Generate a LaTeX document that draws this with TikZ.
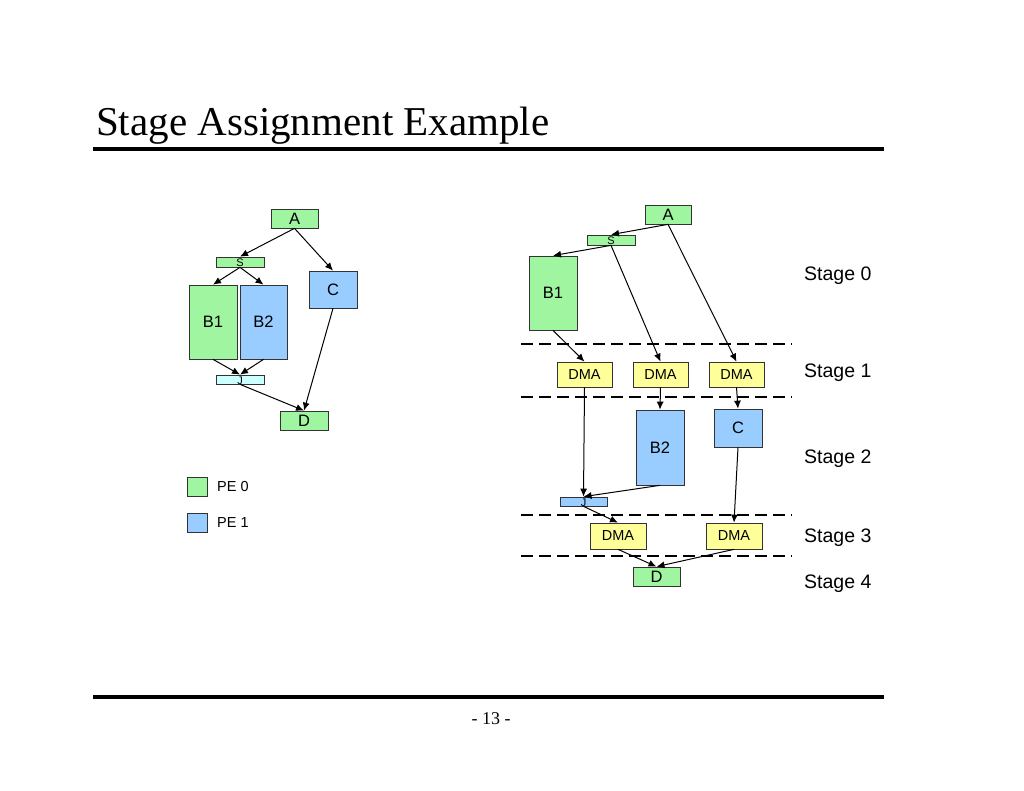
\documentclass[tikz,border=0pt]{standalone}
\usepackage{fontspec}
\setmainfont{Liberation Serif}
\newfontfamily\arialf{Liberation Sans}
\usetikzlibrary{arrows.meta}
\definecolor{pegreen}{HTML}{A0F5A0}
\definecolor{peblue}{HTML}{99CCFF}
\definecolor{dmayellow}{HTML}{FFFF99}
\definecolor{jcyan}{HTML}{CCFFFF}
\begin{document}
\begin{tikzpicture}[x=1pt,y=-1pt,
  box/.style={draw=black!80,line width=0.7pt,inner sep=0pt,font=\arialf\fontsize{16.5}{16.5}\selectfont},
  gbox/.style={box,fill=pegreen},
  bbox/.style={box,fill=peblue},
  ybox/.style={box,fill=dmayellow,font=\arialf\fontsize{14.5}{14.5}\selectfont},
  thin box/.style={box,font=\arialf\fontsize{11}{11}\selectfont,text depth=0pt},
  arr/.style={-{Latex[length=8pt,width=7pt]},line width=1pt},
  stagelbl/.style={anchor=west,inner sep=0pt,font=\arialf\fontsize{19.5}{19.5}\selectfont},
  stageline/.style={line width=2pt,dash pattern=on 12pt off 6pt},
  rulebar/.style={line width=4pt}
]
\useasboundingbox (0,0) rectangle (1024,791);
% title
\node[anchor=base west,inner sep=0pt,font=\fontsize{41}{41}\selectfont] (title) at (96,136) {Stage Assignment Example};
\coordinate (r1a) at (93,149); \coordinate (r1b) at (884,149);
\draw[rulebar] (r1a) -- (r1b);
\coordinate (r2a) at (93,697); \coordinate (r2b) at (884,697);
\draw[rulebar] (r2a) -- (r2b);
\node[font=\fontsize{18}{18}\selectfont,inner sep=0pt] (pg) at (491,719) {- 13 -};

% left graph
\node[gbox,minimum width=47pt,minimum height=19pt] (lA) at (294.5,218.5) {A};
\node[thin box,fill=pegreen,minimum width=48pt,minimum height=10pt] (lS) at (240,262) {\raisebox{-2pt}{S}};
\node[bbox,minimum width=48pt,minimum height=37pt] (lC) at (333,289.5) {C};
\node[gbox,minimum width=48pt,minimum height=74pt] (lB1) at (213,322) {B1};
\node[bbox,minimum width=47pt,minimum height=74pt] (lB2) at (263.5,322) {B2};
\node[thin box,fill=jcyan,minimum width=48pt,minimum height=9pt] (lJ) at (240,379.5) {\raisebox{-2pt}{J}};
\node[gbox,minimum width=48pt,minimum height=19pt] (lD) at (304,420.5) {D};
\draw[arr] (lA.south) -- (lS.north);
\draw[arr] (lA.south) -- (lC.north);
\draw[arr] (lS.south) -- (lB1.north);
\draw[arr] (lS.south) -- (lB2.north);
\draw[arr] (lB1.south) -- (lJ.north);
\draw[arr] (lB2.south) -- (lJ.north);
\draw[arr] (lJ.south) -- (lD.north);
\draw[arr] (lC.south) -- (lD.north);

% legend
\node[box,fill=pegreen,minimum width=20pt,minimum height=19pt] (lg0) at (197,486.5) {};
\node[anchor=west,inner sep=0pt,font=\arialf\fontsize{14.5}{14.5}\selectfont] (lt0) at (217,487) {PE 0};
\node[box,fill=peblue,minimum width=20pt,minimum height=19pt] (lg1) at (197,522.5) {};
\node[anchor=west,inner sep=0pt,font=\arialf\fontsize{14.5}{14.5}\selectfont] (lt1) at (217,523) {PE 1};

% right graph
\node[gbox,minimum width=46pt,minimum height=19pt] (rA) at (668,214.5) {A};
\node[thin box,fill=pegreen,minimum width=48pt,minimum height=10pt] (rS) at (611,240) {\raisebox{-2pt}{S}};
\node[gbox,minimum width=48pt,minimum height=74pt] (rB1) at (553,293) {B1};
\node[ybox,minimum width=55pt,minimum height=25pt] (d1) at (584.5,374.5) {DMA};
\node[ybox,minimum width=55pt,minimum height=25pt] (d2) at (660.5,374.5) {DMA};
\node[ybox,minimum width=55pt,minimum height=25pt] (d3) at (736.5,374.5) {DMA};
\node[bbox,minimum width=48pt,minimum height=75pt] (rB2) at (660,447.5) {B2};
\node[bbox,minimum width=48pt,minimum height=38pt] (rC) at (738,428) {C};
\node[thin box,fill=peblue,minimum width=47pt,minimum height=9pt] (rJ) at (583.5,501.5) {\raisebox{-2pt}{J}};
\node[ybox,minimum width=56pt,minimum height=26pt] (d4) at (618,536) {DMA};
\node[ybox,minimum width=56pt,minimum height=26pt] (d5) at (734,536) {DMA};
\node[gbox,minimum width=47pt,minimum height=19pt] (rD) at (656.5,576.5) {D};

\draw[arr] (rA.south) -- (rS.north);
\draw[arr] (rS.south) -- (rB1.north);
\draw[arr] (rS.south) -- (d2.north);
\draw[arr] (rA.south) -- (d3.north);
\draw[arr] (rB1.south) -- (d1.north);
\draw[arr] (d1.south) -- (rJ.north);
\draw[arr] (d2.south) -- (rB2.north);
\draw[arr] (d3.south) -- (rC.north);
\draw[arr] (rB2.south) -- (rJ.north);
\draw[arr] (rJ.south) -- (d4.north);
\draw[arr] (rC.south) -- (d5.north);
\draw[arr] (d4.south) -- (rD.north);
\draw[arr] (d5.south) -- (rD.north);

% stage lines
\coordinate (s1a) at (521,344); \coordinate (s1b) at (792,344);
\coordinate (s2a) at (521,397); \coordinate (s2b) at (792,397);
\coordinate (s3a) at (521,515); \coordinate (s3b) at (792,515);
\coordinate (s4a) at (521,556); \coordinate (s4b) at (792,556);
\draw[stageline] (s1a) -- (s1b);
\draw[stageline] (s2a) -- (s2b);
\draw[stageline] (s3a) -- (s3b);
\draw[stageline] (s4a) -- (s4b);

\node[stagelbl] (st0) at (804,276) {Stage 0};
\node[stagelbl] (st1) at (804,373) {Stage 1};
\node[stagelbl] (st2) at (804,459) {Stage 2};
\node[stagelbl] (st3) at (804,538) {Stage 3};
\node[stagelbl] (st4) at (804,584) {Stage 4};
\end{tikzpicture}
\end{document}
